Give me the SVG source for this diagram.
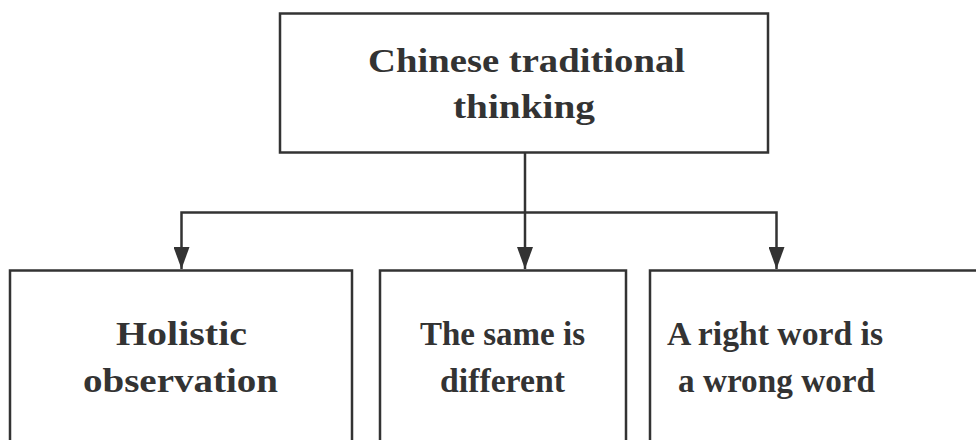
<svg xmlns="http://www.w3.org/2000/svg" width="976" height="440" viewBox="0 0 976 440">
<style>
.box{fill:#fff;stroke:#333;stroke-width:2.5}
.t{font-family:'Liberation Serif','Times New Roman',serif;font-weight:bold;font-size:34px;fill:#333;text-anchor:middle}
.c{fill:none;stroke:#333;stroke-width:2.5}
</style>
<defs>
<marker id="ah" markerWidth="22" markerHeight="16" refX="22" refY="8" orient="auto" markerUnits="userSpaceOnUse" viewBox="0 0 22 16">
<path d="M0,0 L22,8 L0,16 Z" fill="#333"/>
</marker>
</defs>
<rect width="976" height="440" fill="#fff"/>
<g id="connectors">
<line class="c" x1="525" y1="153" x2="525" y2="269" marker-end="url(#ah)"/>
<polyline class="c" points="525,212.5 181.5,212.5 181.5,269" marker-end="url(#ah)"/>
<polyline class="c" points="525,212.5 776.5,212.5 776.5,269" marker-end="url(#ah)"/>
</g>
<g id="root">
<rect class="box" x="280" y="13.5" width="488" height="139"/>
<text class="t" x="526.5" y="72" textLength="317" lengthAdjust="spacingAndGlyphs">Chinese traditional</text>
<text class="t" x="524" y="118" textLength="142" lengthAdjust="spacingAndGlyphs">thinking</text>
</g>
<g id="holistic">
<rect class="box" x="10" y="270.5" width="342" height="190"/>
<text class="t" x="181.5" y="345" textLength="131" lengthAdjust="spacingAndGlyphs">Holistic</text>
<text class="t" x="180.5" y="392" textLength="195" lengthAdjust="spacingAndGlyphs">observation</text>
</g>
<g id="same">
<rect class="box" x="380" y="270.5" width="246" height="190"/>
<text class="t" x="502.5" y="345" textLength="165" lengthAdjust="spacingAndGlyphs">The same is</text>
<text class="t" x="502.5" y="392" textLength="125" lengthAdjust="spacingAndGlyphs">different</text>
</g>
<g id="word">
<rect class="box" x="650" y="270.5" width="340" height="190"/>
<text class="t" x="775" y="345" textLength="216" lengthAdjust="spacingAndGlyphs">A right word is</text>
<text class="t" x="776.5" y="392" textLength="197" lengthAdjust="spacingAndGlyphs">a wrong word</text>
</g>
</svg>
